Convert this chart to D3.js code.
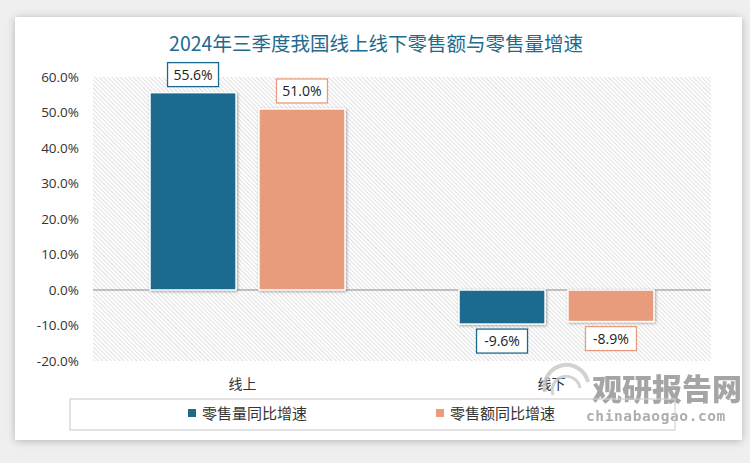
<!DOCTYPE html>
<html><head><meta charset="utf-8">
<script src="https://cdn.jsdelivr.net/npm/d3@7"></script>
<style>
html,body{margin:0;padding:0;background:#efefef;}
svg{display:block;}
</style></head>
<body>
<svg id="c" width="750" height="463"></svg>
<script>
const title = "2024年三季度我国线上线下零售额与零售量增速";
const categories = ["线上", "线下"];
const seriesNames = ["零售量同比增速", "零售额同比增速"];
const volumeGrowth = [55.6, -9.6];
const salesGrowth = [51.0, -8.9];
const yTicks = [-20, -10, 0, 10, 20, 30, 40, 50, 60];
const colors = ["#1b6a8e", "#e89c7c"];

const svg = d3.select("#c");
const defs = svg.append("defs");
const sh = defs.append("filter").attr("id","cardShadow").attr("x","-5%").attr("y","-5%").attr("width","110%").attr("height","110%");
sh.append("feGaussianBlur").attr("in","SourceAlpha").attr("stdDeviation",4);
sh.append("feOffset").attr("dx",0).attr("dy",1).attr("result","b");
sh.append("feComponentTransfer").append("feFuncA").attr("type","linear").attr("slope",0.25);
const m1 = sh.append("feMerge"); m1.append("feMergeNode"); m1.append("feMergeNode").attr("in","SourceGraphic");

const bs = defs.append("filter").attr("id","barShadow").attr("x","-20%").attr("y","-20%").attr("width","140%").attr("height","140%");
bs.append("feGaussianBlur").attr("in","SourceAlpha").attr("stdDeviation",1.5);
bs.append("feOffset").attr("dx",1).attr("dy",1).attr("result","b");
bs.append("feComponentTransfer").append("feFuncA").attr("type","linear").attr("slope",0.35);
const m2 = bs.append("feMerge"); m2.append("feMergeNode"); m2.append("feMergeNode").attr("in","SourceGraphic");

const pat = defs.append("pattern").attr("id","hatch").attr("patternUnits","userSpaceOnUse")
  .attr("width",3).attr("height",3).attr("patternTransform","rotate(-45)");
pat.append("rect").attr("width",3).attr("height",3).attr("fill","#ffffff");
pat.append("line").attr("x1",0.5).attr("y1",0).attr("x2",0.5).attr("y2",3).attr("stroke","#e0e0e0").attr("stroke-width",1);

// card
svg.append("rect").attr("x",15).attr("y",17).attr("width",727).attr("height",423).attr("fill","#fff").attr("filter","url(#cardShadow)");

svg.append("text").attr("x",376).attr("y",51).attr("text-anchor","middle")
  .attr("font-family","'Noto Sans CJK SC', sans-serif").attr("font-size",19.5).attr("fill","#1f6a8d").text(title);

const left = 93, right = 711;
const y = d3.scaleLinear().domain([-20, 60]).range([361, 77]);
const x0 = d3.scaleBand().domain(categories).range([left, right]).paddingInner(0).paddingOuter(0);
const x1 = d3.scaleBand().domain([0,1]).range([0, 195]).paddingInner(0.21);
const groupOffset = (x0.bandwidth() - 195) / 2;

// plot area hatch
svg.append("rect").attr("x",left).attr("y",y(60)).attr("width",right-left).attr("height",y(-20)-y(60)).attr("fill","url(#hatch)");

// y axis
const yAxis = d3.axisLeft(y).tickValues(yTicks).tickFormat(d => d.toFixed(1) + "%").tickSize(0).tickPadding(14);
const ga = svg.append("g").attr("transform",`translate(${left},0)`).call(yAxis);
ga.select(".domain").remove();
ga.selectAll("text").attr("font-family","'Open Sans', 'Noto Sans', sans-serif").attr("font-size",13.5).attr("fill","#333");

// zero line
svg.append("line").attr("x1",left).attr("x2",right).attr("y1",y(0)).attr("y2",y(0)).attr("stroke","#8c8c8c").attr("stroke-width",1.2);

const series = [volumeGrowth, salesGrowth];
series.forEach((vals, si) => {
  const g = svg.append("g");
  vals.forEach((v, ci) => {
    const bx = x0(categories[ci]) + groupOffset + x1(si);
    const bw = x1.bandwidth();
    const top = Math.min(y(v), y(0)), h = Math.abs(y(v) - y(0));
    g.append("rect").attr("x",bx).attr("y",top).attr("width",bw).attr("height",h)
      .attr("fill",colors[si]).attr("stroke","#fff").attr("stroke-width",1.5).attr("filter","url(#barShadow)");
    const label = v.toFixed(1) + "%";
    const cx = bx + bw/2;
    const boxW = 51, boxH = 24;
    const by = v >= 0 ? y(v) - 6 - boxH : y(v) + 5;
    g.append("rect").attr("x",cx-boxW/2).attr("y",by).attr("width",boxW).attr("height",boxH)
      .attr("fill","#fff").attr("stroke",colors[si]).attr("stroke-width",1.3);
    g.append("text").attr("x",cx).attr("y",by+boxH/2+5).attr("text-anchor","middle")
      .attr("font-family","'Open Sans', 'Noto Sans', sans-serif").attr("font-size",14).attr("fill","#222").text(label);
  });
});

// category labels
categories.forEach(c => {
  svg.append("text").attr("x",x0(c)+x0.bandwidth()/2-5).attr("y",389).attr("text-anchor","middle")
    .attr("font-family","'Noto Sans CJK SC', sans-serif").attr("font-size",14).attr("fill","#333").text(c);
});

// watermark
const wm = svg.append("g").attr("opacity",0.8);
wm.append("path").attr("d","M545,392 A22,22 0 1 1 588,382").attr("fill","none").attr("stroke","#c8c8c8").attr("stroke-width",4);
wm.append("path").attr("d","M553,395 A14,14 0 1 1 580,388").attr("fill","none").attr("stroke","#c8c8c8").attr("stroke-width",3);
wm.append("text").attr("x",592).attr("y",400).attr("font-family","'Noto Sans CJK SC', sans-serif").attr("font-weight",900)
  .attr("font-size",30).attr("fill","#8f8f8f").text("观研报告网");
wm.append("text").attr("x",586).attr("y",421).attr("font-family","'DejaVu Sans Mono', monospace").attr("font-weight","bold")
  .attr("font-size",14.5).attr("fill","#9a9a9a").attr("letter-spacing",0.6).text("chinabaogao.com");

// legend
svg.append("rect").attr("x",70).attr("y",399).attr("width",605).attr("height",31).attr("fill","none").attr("stroke","#d0d0d0").attr("stroke-width",1.2);
const lx = [188, 436];
seriesNames.forEach((n, i) => {
  svg.append("rect").attr("x",lx[i]).attr("y",409).attr("width",8).attr("height",8).attr("fill",colors[i]);
  svg.append("text").attr("x",lx[i]+14).attr("y",419).attr("font-family","'Noto Sans CJK SC', sans-serif")
    .attr("font-size",15).attr("fill","#333").text(n);
});
</script>
</body></html>
